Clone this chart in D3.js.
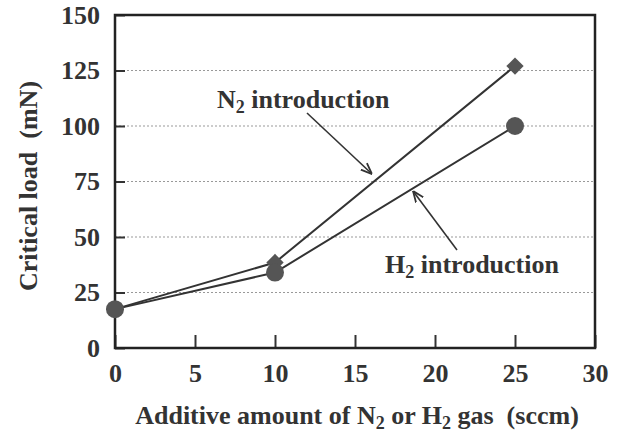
<!DOCTYPE html>
<html>
<head>
<meta charset="utf-8">
<script src="https://cdn.jsdelivr.net/npm/d3@7"></script>
<style>
  body { margin: 0; background: #fff; }
  svg { display: block; }
  text { font-family: "Liberation Serif", "Times New Roman", serif; font-weight: bold; fill: #333; }
</style>
</head>
<body>
<div id="chart"></div>
<script>
const gasFlow = [0, 10, 25];
const n2Load = [17.5, 38.5, 127];
const h2Load = [17.5, 34, 100];
const xTicks = [0, 5, 10, 15, 20, 25, 30];
const yTicks = [0, 25, 50, 75, 100, 125, 150];

const width = 624, height = 432;
const margin = {top: 15, right: 29, bottom: 84, left: 115};
const w = width - margin.left - margin.right;
const h = height - margin.top - margin.bottom;

const svg = d3.select('#chart').append('svg')
    .attr('width', width)
    .attr('height', height);

const g = svg.append('g')
    .attr('transform', `translate(${margin.left},${margin.top})`);

const x = d3.scaleLinear().domain([0, 30]).range([0, w]);
const y = d3.scaleLinear().domain([0, 150]).range([h, 0]);

// dotted grid
g.append('g')
    .selectAll('line')
    .data(yTicks.filter(d => d > 0 && d < 150))
    .enter().append('line')
    .attr('x1', 0).attr('x2', w)
    .attr('y1', d => y(d)).attr('y2', d => y(d))
    .style('stroke', '#999')
    .style('stroke-width', 1)
    .style('stroke-dasharray', '2,2');

// y ticks inward
const yAxis = g.append('g')
    .call(d3.axisLeft(y).tickValues(yTicks).tickSize(-10).tickPadding(15).tickFormat(d3.format('d')));
yAxis.select('.domain').remove();
yAxis.selectAll('line').style('stroke', '#333').style('stroke-width', 2);
yAxis.selectAll('text').style('font-size', '26px').style('font-family', '"Liberation Serif", serif')
    .style('font-weight', 'bold').style('fill', '#333');

// x ticks inward
const xAxis = g.append('g')
    .attr('transform', `translate(0,${h})`)
    .call(d3.axisBottom(x).tickValues(xTicks).tickSize(-13).tickPadding(16));
xAxis.select('.domain').remove();
xAxis.selectAll('line').style('stroke', '#333').style('stroke-width', 2);
xAxis.selectAll('text').style('font-size', '26px').style('font-family', '"Liberation Serif", serif')
    .style('font-weight', 'bold').style('fill', '#333');

// frame
g.append('rect')
    .attr('width', w).attr('height', h)
    .style('fill', 'none')
    .style('stroke', '#222')
    .style('stroke-width', 2.5);

const line = d3.line()
    .x(d => x(d[0]))
    .y(d => y(d[1]));

const n2 = gasFlow.map((v, i) => [v, n2Load[i]]);
const h2 = gasFlow.map((v, i) => [v, h2Load[i]]);

[n2, h2].forEach(data => {
    g.append('path')
        .datum(data)
        .attr('d', line)
        .style('fill', 'none')
        .style('stroke', '#333')
        .style('stroke-width', 2);
});

g.selectAll('.diamond')
    .data(n2)
    .enter().append('path')
    .attr('class', 'diamond')
    .attr('transform', d => `translate(${x(d[0])},${y(d[1])}) rotate(45)`)
    .attr('d', d3.symbol().type(d3.symbolSquare).size(150))
    .style('fill', '#555');

g.selectAll('.dot')
    .data(h2)
    .enter().append('circle')
    .attr('class', 'dot')
    .attr('cx', d => x(d[0]))
    .attr('cy', d => y(d[1]))
    .attr('r', 9)
    .style('fill', '#555');

// annotations
svg.append('defs').append('marker')
    .attr('id', 'arrow')
    .attr('viewBox', '0 0 10 10')
    .attr('refX', 10).attr('refY', 5)
    .attr('markerWidth', 7).attr('markerHeight', 7)
    .attr('orient', 'auto')
    .append('path')
    .attr('d', 'M0,1 L10,5 L0,9')
    .style('fill', 'none')
    .style('stroke', '#333')
    .style('stroke-width', 1.6);

function label(tx, ty, gas) {
    const t = svg.append('text')
        .attr('x', tx).attr('y', ty)
        .style('font-size', '26px');
    t.append('tspan').text(gas);
    t.append('tspan').attr('dy', 5).style('font-size', '18px').text('2');
    t.append('tspan').attr('dy', -5).text(' introduction');
}

label(217, 108, 'N');
label(385, 273, 'H');

svg.append('line')
    .attr('x1', 307).attr('y1', 113).attr('x2', 372).attr('y2', 174)
    .style('stroke', '#333').style('stroke-width', 1.6)
    .attr('marker-end', 'url(#arrow)');

svg.append('line')
    .attr('x1', 457).attr('y1', 250).attr('x2', 413).attr('y2', 191)
    .style('stroke', '#333').style('stroke-width', 1.6)
    .attr('marker-end', 'url(#arrow)');

// axis titles
svg.append('text')
    .attr('transform', 'translate(37,186) rotate(-90)')
    .attr('text-anchor', 'middle')
    .style('font-size', '26px')
    .text('Critical load\u00a0\u00a0(mN)');

const xt = svg.append('text')
    .attr('x', 357)
    .attr('y', 424)
    .attr('text-anchor', 'middle')
    .style('font-size', '26px');
xt.append('tspan').text('Additive amount of N');
xt.append('tspan').attr('dy', 5).style('font-size', '18px').text('2');
xt.append('tspan').attr('dy', -5).text(' or H');
xt.append('tspan').attr('dy', 5).style('font-size', '18px').text('2');
xt.append('tspan').attr('dy', -5).text(' gas\u00a0\u00a0(sccm)');
</script>
</body>
</html>
